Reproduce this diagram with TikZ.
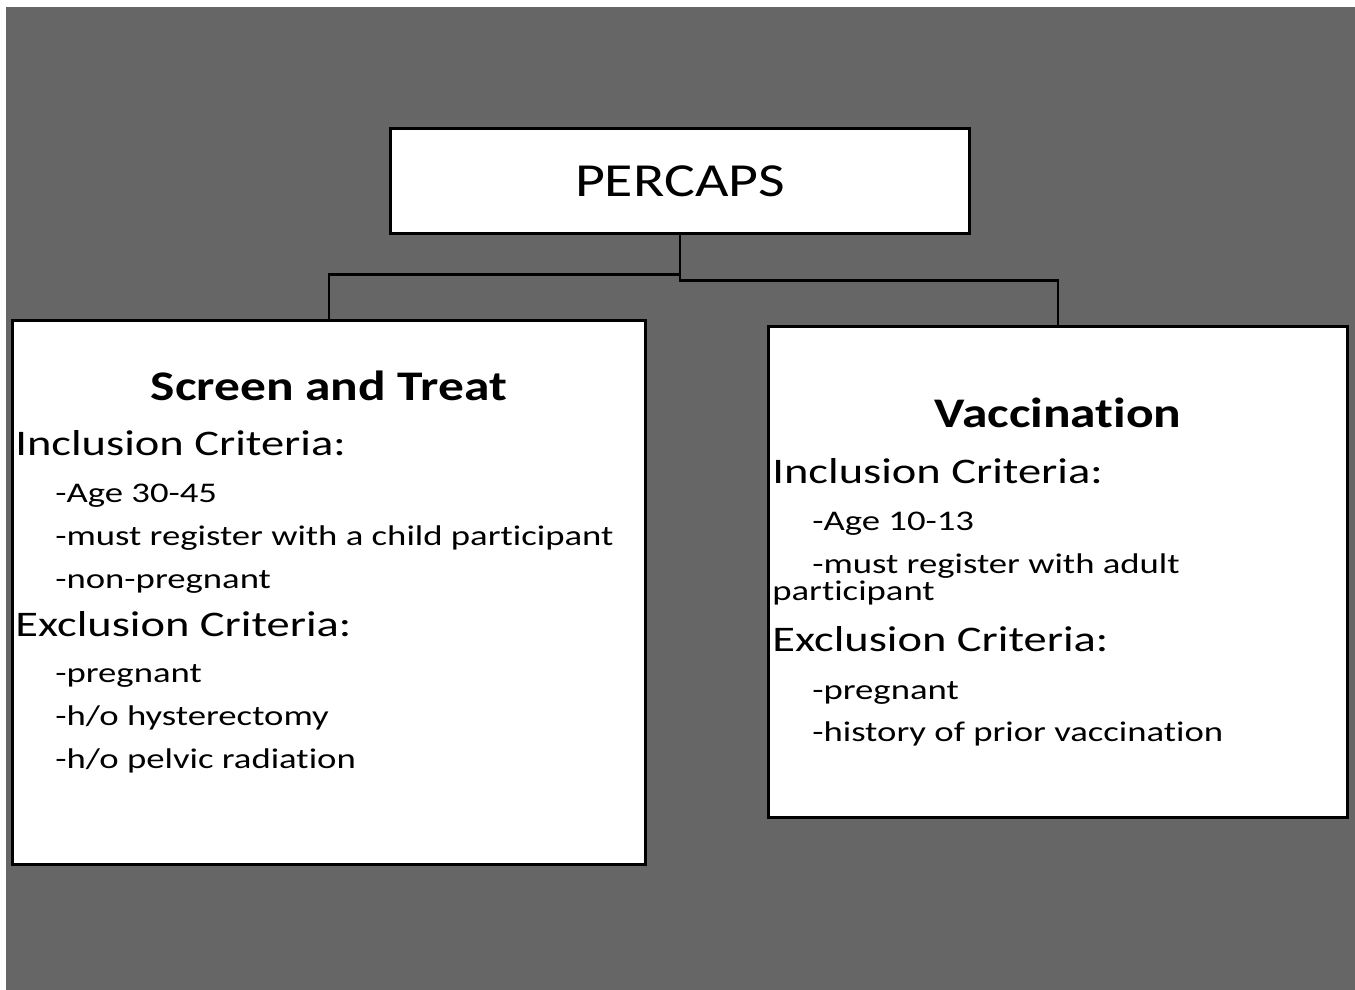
\documentclass[tikz,border=0pt]{standalone}
\usepackage{fontspec}
\setmainfont[FakeStretch=1.29, Ligatures=NoCommon]{Carlito}
\newfontfamily\ttlfont[FakeStretch=1.22, Ligatures=NoCommon]{Carlito}
\usepackage{tikz}
\usetikzlibrary{positioning, calc}
\definecolor{slide_gray}{RGB}{102, 102, 102}

\begin{document}
\begin{tikzpicture}[x=0.02cm, y=-0.02cm,
      box/.style={draw, line width=1.7pt, fill=white, inner sep=0pt},
      link/.style={line width=1.3pt},
      ttl/.style={font=\ttlfont\fontsize{24}{28}\selectfont\bfseries, anchor=base, inner sep=0pt},
      crit/.style={font=\fontsize{20.5}{24}\selectfont, anchor=base west, inner sep=0pt},
      item/.style={font=\fontsize{16.2}{19}\selectfont, anchor=base west, inner sep=0pt}]
      \useasboundingbox (0,0) rectangle (1355,990);
      \fill[slide_gray] (6,7) rectangle (1355,990);
      % boxes
      \node[box, minimum width=11.6cm, minimum height=2.12cm,
            font=\ttlfont\fontsize{27}{32}\selectfont] (top) at (680,181) {PERCAPS};
      \node[box, minimum width=12.68cm, minimum height=10.9cm] (screen) at (329,592.5) {};
      \node[box, minimum width=11.6cm, minimum height=9.84cm] (vacc) at (1058,572) {};
      \draw[link] (top.south) -- ++(0,39) -| (screen.north);
      \draw[link] (top.south) -- ++(0,45) -| (vacc.north);
      % screen and treat
      \node[ttl] (s0) at (329,400) {Screen and Treat};
      \node[crit] (s1) at (15,455) {Inclusion Criteria:};
      \node[item] (s2) at (55,502) {-Age 30-45};
      \node[item] (s3) at (55,545) {-must register with a child participant};
      \node[item] (s4) at (55,588) {-non-pregnant};
      \node[crit] (s5) at (15,636) {Exclusion Criteria:};
      \node[item] (s6) at (55,682) {-pregnant};
      \node[item] (s7) at (55,725) {-h/o hysterectomy};
      \node[item] (s8) at (55,768) {-h/o pelvic radiation};
      % vaccination
      \node[ttl] (v0) at (1058,427) {Vaccination};
      \node[crit] (v1) at (772,483) {Inclusion Criteria:};
      \node[item] (v2) at (812,530) {-Age 10-13};
      \node[item] (v3) at (812,573) {-must register with adult};
      \node[item] (v4) at (772,600) {participant};
      \node[crit] (v5) at (772,651) {Exclusion Criteria:};
      \node[item] (v6) at (812,699) {-pregnant};
      \node[item] (v7) at (812,741) {-history of prior vaccination};
\end{tikzpicture}
\end{document}
